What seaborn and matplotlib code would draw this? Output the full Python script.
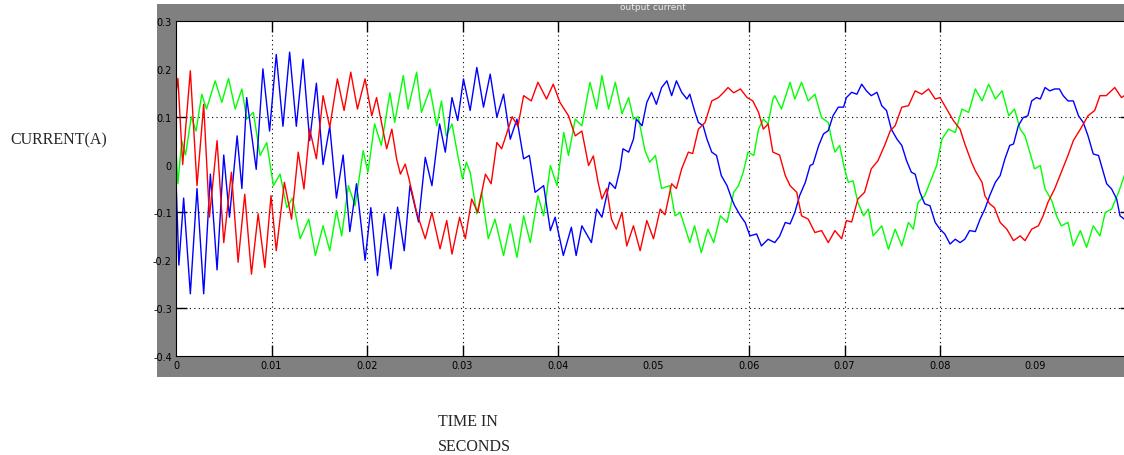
import numpy as np
import pandas as pd
import matplotlib
matplotlib.use("Agg")
import matplotlib.pyplot as plt
import seaborn as sns
from matplotlib.patches import Rectangle
from matplotlib.ticker import FixedLocator

# values, time in ms, current in A
red_ms = [0.0, 0.2, 0.7, 1.5, 2.2, 2.9, 3.5, 4.3, 5.0, 5.8, 6.5, 7.2, 7.9, 8.6, 9.3, 9.95,
          10.5, 11.35, 12.1, 12.8, 13.4, 14.0, 14.7, 15.4, 16.1, 16.9, 17.6, 18.3, 19.0, 19.8,
          20.5, 21.0, 22.06, 22.6, 23.1, 23.5, 24.0, 24.4, 25.2, 26.1, 26.8, 27.65, 28.35, 28.9,
          29.7, 30.3, 30.96, 31.6, 32.4, 33.0, 33.6, 34.1, 35.2, 35.8, 36.4, 37.2, 37.9, 38.8,
          39.5, 40.2, 41.1, 41.8, 42.5, 43.2, 43.7, 44.2, 44.6, 45.1, 45.6, 46.1, 46.7, 47.2,
          47.9, 48.6, 49.3, 50.0, 50.7, 51.2, 51.9, 52.4, 52.95, 53.65, 54.1, 54.7, 55.4, 56.1,
          56.8, 57.3, 57.8, 58.4, 59.1, 59.8, 60.4, 61.0, 61.5, 62.0, 62.5, 63.2, 63.8, 64.3,
          65.0, 65.5, 66.2, 66.9, 67.6, 68.3, 69.0, 69.7, 70.2, 70.75, 71.4, 72.1, 72.8, 73.5,
          74.2, 74.8, 75.3, 76.0, 76.7, 77.4, 78.1, 78.8, 79.5, 80.0, 80.7, 81.4, 82.1, 82.6,
          83.3, 83.7, 84.4, 84.7, 85.2, 85.7, 86.3, 87.0, 87.7, 88.4, 88.9, 89.6, 90.3, 90.8,
          91.3, 92.0, 92.7, 93.4, 93.96, 94.7, 95.5, 96.2, 96.75, 97.4, 98.3, 99.0, 99.3]
red_a = [0.15, 0.18, 0.0, 0.196, -0.044, 0.126, -0.11, 0.05, -0.163, -0.016, -0.204, -0.062,
         -0.229, -0.103, -0.215, -0.065, -0.18, -0.037, -0.114, 0.026, -0.051, 0.074, 0.012,
         0.144, 0.078, 0.179, 0.113, 0.193, 0.116, 0.179, 0.102, 0.14, 0.033, 0.074, 0.012,
         -0.02, 0.001, -0.03, -0.10, -0.155, -0.10, -0.176, -0.117, -0.187, -0.11, -0.155,
         -0.072, -0.10, -0.02, -0.04, 0.046, 0.033, 0.10, 0.08, 0.144, 0.133, 0.172, 0.137,
         0.168, 0.13, 0.102, 0.06, 0.07, -0.002, 0.018, -0.037, -0.072, -0.05, -0.114, -0.135,
         -0.10, -0.17, -0.128, -0.18, -0.117, -0.155, -0.093, -0.105, -0.04, -0.05, -0.009,
         0.026, 0.023, 0.074, 0.088, 0.133, 0.14, 0.15, 0.161, 0.15, 0.158, 0.14, 0.133, 0.109,
         0.074, 0.085, 0.026, 0.02, -0.023, -0.044, -0.058, -0.107, -0.114, -0.142, -0.138,
         -0.163, -0.138, -0.155, -0.117, -0.12, -0.072, -0.058, -0.009, 0.008, 0.04, 0.071,
         0.081, 0.12, 0.123, 0.154, 0.147, 0.158, 0.137, 0.14, 0.116, 0.092, 0.074, 0.043,
         0.005, -0.013, -0.037, -0.065, -0.082, -0.09, -0.121, -0.135, -0.159, -0.149, -0.159,
         -0.135, -0.128, -0.107, -0.079, -0.051, -0.016, 0.019, 0.05, 0.074, 0.102, 0.113,
         0.144, 0.144, 0.161, 0.14, 0.144]

green_ms = [0.0, 0.2, 0.6, 1.0, 1.6, 2.1, 2.7, 3.2, 4.1, 4.8, 5.5, 6.2, 6.9, 7.4, 8.1, 8.8,
            9.5, 10.2, 10.9, 11.6, 12.2, 13.0, 13.9, 14.6, 15.4, 16.1, 16.8, 17.35, 18.05,
            18.75, 19.6, 20.1, 20.8, 21.5, 22.4, 22.9, 23.8, 24.3, 25.2, 25.7, 26.6, 27.3,
            27.8, 28.3, 28.9, 29.5, 30.0, 30.4, 30.8, 31.5, 32.0, 32.7, 33.4, 34.3, 35.0, 35.7,
            36.4, 37.1, 37.9, 38.5, 39.2, 39.9, 40.6, 41.1, 41.8, 42.5, 43.35, 44.05, 44.6,
            45.3, 46.0, 46.7, 47.4, 47.9, 48.4, 49.1, 49.6, 50.2, 50.85, 51.7, 52.25, 52.8,
            53.8, 54.3, 55.0, 55.7, 56.3, 57.0, 57.7, 58.4, 58.9, 59.4, 59.9, 60.5, 61.0, 61.5,
            62.0, 62.5, 62.7, 63.4, 64.3, 64.8, 65.5, 66.2, 66.9, 67.6, 68.3, 68.65, 69.0, 69.5,
            70.0, 70.4, 70.9, 71.4, 72.0, 72.5, 73.0, 73.9, 74.6, 75.3, 76.0, 76.7, 77.2, 77.7,
            78.4, 79.1, 79.65, 80.2, 80.9, 81.6, 82.3, 83.0, 83.7, 84.4, 85.1, 85.8, 86.5, 87.2,
            87.8, 88.4, 88.9, 89.4, 89.9, 90.5, 91.0, 91.7, 92.2, 92.7, 93.4, 93.96, 94.7,
            95.35, 96.05, 96.75, 97.3, 97.97, 98.7, 99.3]
green_a = [0.03, -0.04, 0.05, 0.02, 0.10, 0.07, 0.147, 0.116, 0.175, 0.13, 0.18, 0.116, 0.158,
           0.095, 0.109, 0.019, 0.046, -0.044, -0.02, -0.09, -0.07, -0.155, -0.114, -0.19,
           -0.128, -0.18, -0.096, -0.149, -0.044, -0.086, 0.029, -0.016, 0.085, 0.04, 0.15,
           0.088, 0.186, 0.116, 0.193, 0.109, 0.158, 0.081, 0.133, 0.06, 0.085, 0.02, -0.03,
           0.005, -0.016, -0.103, -0.058, -0.155, -0.114, -0.19, -0.124, -0.194, -0.107,
           -0.163, -0.065, -0.107, -0.002, -0.044, 0.067, 0.019, 0.095, 0.081, 0.172, 0.116,
           0.186, 0.116, 0.172, 0.106, 0.14, 0.095, 0.10, 0.03, 0.005, 0.019, -0.05, -0.044,
           -0.107, -0.10, -0.163, -0.128, -0.184, -0.135, -0.163, -0.107, -0.121, -0.058,
           -0.044, -0.016, 0.026, 0.019, 0.074, 0.095, 0.085, 0.137, 0.144, 0.116, 0.172,
           0.137, 0.172, 0.133, 0.147, 0.098, 0.088, 0.053, 0.026, 0.04, -0.009, -0.037,
           -0.034, -0.079, -0.107, -0.093, -0.149, -0.128, -0.177, -0.135, -0.17, -0.121,
           -0.135, -0.079, -0.065, -0.03, -0.002, 0.053, 0.074, 0.067, 0.116, 0.109, 0.158,
           0.133, 0.168, 0.137, 0.154, 0.102, 0.116, 0.074, 0.06, 0.026, -0.009, -0.002,
           -0.051, -0.075, -0.107, -0.128, -0.121, -0.17, -0.138, -0.173, -0.128, -0.149,
           -0.10, -0.093, -0.058, -0.023]

blue_ms = [0.0, 0.3, 0.8, 1.5, 2.2, 2.9, 3.6, 4.3, 5.0, 5.6, 6.4, 6.9, 7.4, 8.4, 9.1, 9.8,
           10.5, 11.2, 11.9, 12.6, 13.3, 14.0, 14.7, 15.4, 16.1, 16.8, 17.5, 18.2, 18.9, 19.8,
           20.4, 21.1, 21.8, 22.5, 23.2, 23.9, 24.5, 25.4, 26.1, 26.8, 27.6, 28.2, 28.9, 29.5,
           30.1, 30.8, 31.5, 32.2, 32.9, 33.6, 34.3, 35.0, 35.7, 36.4, 37.0, 37.6, 38.5, 39.2,
           39.7, 40.56, 41.4, 41.9, 42.5, 43.5, 44.05, 44.6, 45.1, 45.4, 46.0, 46.5, 46.8, 47.4,
           47.9, 48.2, 48.8, 49.3, 49.8, 50.3, 50.85, 51.4, 51.9, 52.4, 52.95, 53.5, 53.8,
           54.35, 54.7, 55.2, 55.6, 56.1, 56.6, 57.1, 57.7, 58.2, 58.5, 59.1, 59.6, 60.1, 60.8,
           61.3, 62.0, 62.7, 63.2, 63.8, 64.3, 64.8, 65.3, 65.9, 66.4, 66.7, 67.3, 67.8, 68.3,
           68.8, 69.35, 69.9, 70.2, 70.75, 71.3, 71.8, 72.3, 72.8, 73.4, 73.9, 74.4, 74.9,
           75.5, 76.0, 76.5, 77.0, 77.4, 77.9, 78.4, 78.95, 79.5, 80.0, 80.5, 81.05, 81.6,
           82.1, 82.6, 83.1, 83.7, 84.2, 84.7, 85.2, 85.8, 86.3, 86.8, 87.3, 87.7, 88.2, 88.7,
           89.2, 89.6, 90.1, 90.5, 91.0, 91.5, 92.0, 92.5, 92.9, 93.4, 93.96, 94.5, 95.0,
           95.5, 96.05, 96.6, 97.1, 97.45, 97.97, 98.5, 98.85, 99.3]
blue_a = [-0.03, -0.21, -0.07, -0.27, -0.05, -0.27, -0.02, -0.22, 0.02, -0.11, 0.06, -0.05,
          0.14, -0.01, 0.20, 0.07, 0.23, 0.08, 0.235, 0.08, 0.22, 0.05, 0.17, 0.0, 0.08,
          -0.07, 0.02, -0.14, -0.04, -0.20, -0.09, -0.232, -0.103, -0.218, -0.089, -0.18,
          -0.044, -0.12, 0.015, -0.044, 0.085, 0.026, 0.14, 0.092, 0.179, 0.113, 0.203, 0.12,
          0.189, 0.099, 0.147, 0.053, 0.095, 0.012, 0.019, -0.058, -0.044, -0.138, -0.11,
          -0.19, -0.131, -0.19, -0.128, -0.163, -0.093, -0.11, -0.065, -0.037, -0.05, -0.009,
          0.033, 0.026, 0.053, 0.095, 0.081, 0.13, 0.151, 0.126, 0.161, 0.175, 0.144, 0.175,
          0.151, 0.137, 0.147, 0.109, 0.088, 0.081, 0.053, 0.026, 0.019, -0.023, -0.044,
          -0.072, -0.086, -0.107, -0.121, -0.149, -0.145, -0.17, -0.156, -0.163, -0.15,
          -0.121, -0.124, -0.1, -0.065, -0.037, -0.002, 0.001, 0.04, 0.064, 0.071, 0.102,
          0.12, 0.12, 0.14, 0.151, 0.147, 0.168, 0.154, 0.144, 0.151, 0.123, 0.113, 0.074,
          0.053, 0.04, 0.008, -0.016, -0.02, -0.058, -0.082, -0.086, -0.121, -0.135, -0.145,
          -0.166, -0.156, -0.163, -0.156, -0.138, -0.14, -0.114, -0.093, -0.065, -0.037,
          -0.023, 0.012, 0.04, 0.043, 0.081, 0.098, 0.102, 0.133, 0.14, 0.137, 0.161, 0.154,
          0.158, 0.158, 0.144, 0.133, 0.133, 0.102, 0.088, 0.06, 0.022, 0.019, -0.016, -0.04,
          -0.051, -0.072, -0.107, -0.114]

x_ticks = [0, 0.01, 0.02, 0.03, 0.04, 0.05, 0.06, 0.07, 0.08, 0.09]
x_labels = ["0", "0.01", "0.02", "0.03", "0.04", "0.05", "0.06", "0.07", "0.08", "0.09"]
y_ticks = [0.3, 0.2, 0.1, 0, -0.1, -0.2, -0.3, -0.4]
y_labels = ["0.3", "0.2", "0.1", "0", "-0.1", "-0.2", "-0.3", "-0.4"]
# grid lines that survive in the screenshot
x_grid = [0.01, 0.02, 0.03, 0.04, 0.06, 0.07, 0.08]
y_grid = [0.1, -0.1, -0.3]

frames = []
for name, t, a in [("green", green_ms, green_a), ("blue", blue_ms, blue_a), ("red", red_ms, red_a)]:
    frames.append(pd.DataFrame({"time": np.array(t) / 1000.0, "current": a, "phase": name}))
df = pd.concat(frames, ignore_index=True)

sns.set_style("white")
plt.rcParams['font.family'] = ['DejaVu Sans']

W, H = 1124, 456
fig = plt.figure(figsize=(W / 100, H / 100), dpi=100)
fig.add_artist(Rectangle((157 / W, 1 - 378 / H), 1, (378 - 5) / H, transform=fig.transFigure,
                         facecolor='#808080', edgecolor='none', zorder=-1))
ax = fig.add_axes([176 / W, 1 - 357 / H, 955 / W, 335 / H])
ax.set_facecolor('white')

for gx in x_grid:
    ax.axvline(gx, color='black', lw=0.8, ls=(0, (1, 3)), zorder=1)
for gy in y_grid:
    ax.axhline(gy, color='black', lw=0.8, ls=(0, (1, 3)), zorder=1)

sns.lineplot(data=df, x='time', y='current', hue='phase',
             palette={'red': '#ff0000', 'green': '#00ff00', 'blue': '#0000ff'},
             hue_order=['green', 'blue', 'red'], estimator=None, sort=False,
             lw=1.0, legend=False, ax=ax, zorder=2)

ax.set_xlim(0, 0.1)
ax.set_ylim(-0.4, 0.3)
ax.set_xticks(x_ticks, x_labels)
ax.set_yticks(y_ticks, y_labels)
ax.tick_params(which='major', length=0, pad=3, labelsize=7, labelcolor='black')
ax.xaxis.remove_overlapping_locs = False
ax.yaxis.remove_overlapping_locs = False
ax.xaxis.set_minor_locator(FixedLocator(x_grid))
ax.yaxis.set_minor_locator(FixedLocator(y_grid))
ax.tick_params(which='minor', direction='in', length=8, width=1.0, color='black',
               top=True, bottom=True, left=True, right=True)
ax.set_xlabel("")
ax.set_ylabel("")
for s in ax.spines.values():
    s.set_color('black')
    s.set_linewidth(0.8)

fig.text(653 / W, 1 - 8 / H, "output current", ha='center', va='center', fontsize=6.5,
         color='#eeeeee')
fig.text(10 / W, 1 - 140 / H, "CURRENT(A)", ha='left', va='center', fontsize=11.5,
         family='Liberation Serif')
fig.text(438 / W, 1 - 422 / H, "TIME IN", ha='left', va='center', fontsize=11.5,
         family='Liberation Serif')
fig.text(438 / W, 1 - 447 / H, "SECONDS", ha='left', va='center', fontsize=11.5,
         family='Liberation Serif')

fig.savefig("out.png", dpi=100)
